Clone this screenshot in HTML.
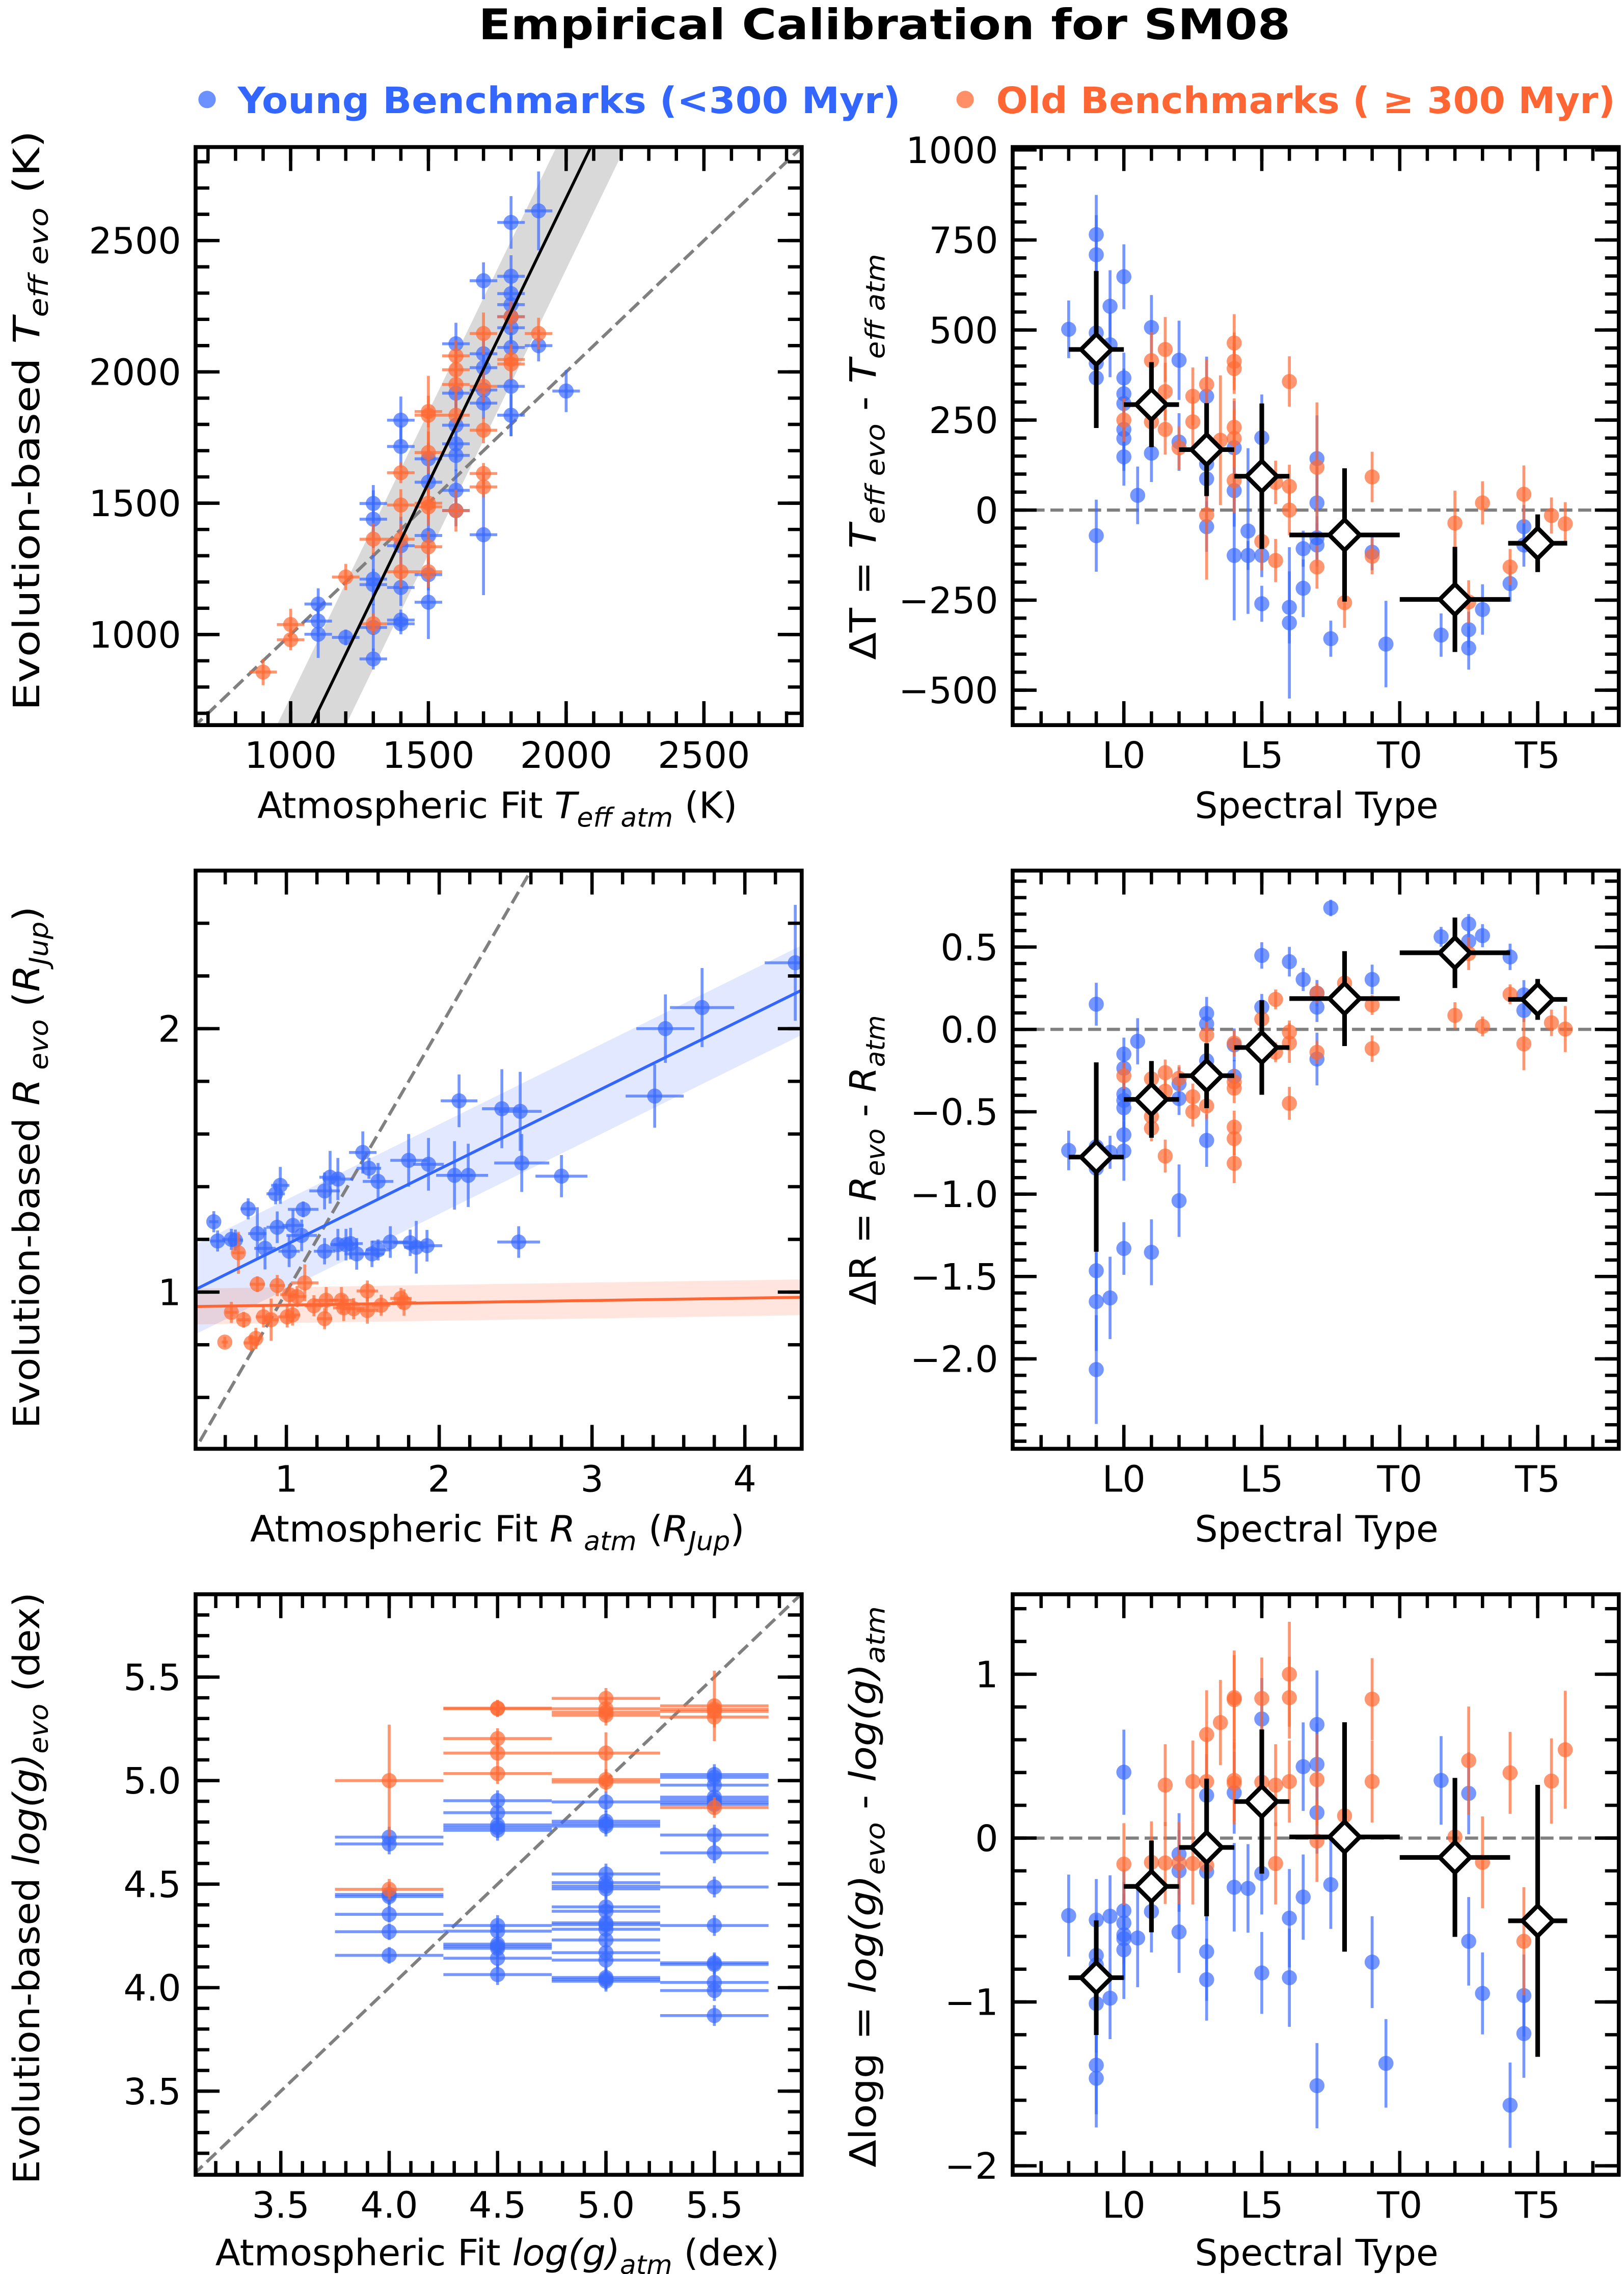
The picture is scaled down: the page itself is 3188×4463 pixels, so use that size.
<!DOCTYPE html>
<html><head><meta charset="utf-8"><title>Empirical Calibration for SM08</title>
<style>
html,body{margin:0;padding:0;background:#fff;width:3188px;height:4463px;overflow:hidden;}
svg{display:block;}
text{font-family:"DejaVu Sans","Liberation Sans",sans-serif;fill:#000;}
</style></head>
<body>
<svg id="fig" width="3188" height="4463" viewBox="0 0 1120 1568" preserveAspectRatio="none" xmlns="http://www.w3.org/2000/svg">
<rect x="0" y="0" width="1120" height="1568" fill="#fff"/>
<text x="610" y="27" text-anchor="middle" font-size="29" font-weight="bold" textLength="560" lengthAdjust="spacingAndGlyphs">Empirical Calibration for SM08</text>
<g>
<circle cx="142.8" cy="68.6" r="6" fill="#3a6bff" fill-opacity="0.75"/>
<text x="164" y="78" font-size="25" font-weight="bold" style="fill:#3366ff" textLength="457" lengthAdjust="spacingAndGlyphs">Young Benchmarks (&lt;300 Myr)</text>
<circle cx="665.6" cy="68.6" r="6" fill="#ff6a33" fill-opacity="0.75"/>
<text x="687" y="78" font-size="25" font-weight="bold" style="fill:#ff6633" textLength="427" lengthAdjust="spacingAndGlyphs">Old Benchmarks ( ≥ 300 Myr)</text>
</g>

<text x="343" y="564" text-anchor="middle" font-size="25" textLength="331" lengthAdjust="spacingAndGlyphs">Atmospheric Fit <tspan font-style="italic">T</tspan><tspan font-style="italic" font-size="18" dy="6">eff atm</tspan><tspan dy="-6"> (K)</tspan></text>
<text transform="translate(27,290) rotate(-90)" text-anchor="middle" font-size="25" textLength="400" lengthAdjust="spacingAndGlyphs">Evolution-based  <tspan font-style="italic">T</tspan><tspan font-style="italic" font-size="18" dy="6">eff evo</tspan><tspan dy="-6"> (K)</tspan></text>
<text x="908" y="564" text-anchor="middle" font-size="25" textLength="168" lengthAdjust="spacingAndGlyphs">Spectral Type</text>
<text transform="translate(604,315) rotate(-90)" text-anchor="middle" font-size="25" textLength="280" lengthAdjust="spacingAndGlyphs">ΔT = <tspan font-style="italic">T</tspan><tspan font-style="italic" font-size="18" dy="6">eff evo</tspan><tspan dy="-6"> - </tspan><tspan font-style="italic">T</tspan><tspan font-style="italic" font-size="18" dy="6">eff atm</tspan></text>

<text x="343" y="1063" text-anchor="middle" font-size="25" textLength="341" lengthAdjust="spacingAndGlyphs">Atmospheric Fit <tspan font-style="italic">R</tspan><tspan font-style="italic" font-size="18" dy="6"> atm</tspan><tspan dy="-6"> (</tspan><tspan font-style="italic">R</tspan><tspan font-style="italic" font-size="18" dy="6">Jup</tspan><tspan dy="-6">)</tspan></text>
<text transform="translate(27,805) rotate(-90)" text-anchor="middle" font-size="25" textLength="360" lengthAdjust="spacingAndGlyphs">Evolution-based <tspan font-style="italic">R</tspan><tspan font-style="italic" font-size="18" dy="6"> evo</tspan><tspan dy="-6"> (</tspan><tspan font-style="italic">R</tspan><tspan font-style="italic" font-size="18" dy="6">Jup</tspan><tspan dy="-6">)</tspan></text>
<text x="908" y="1063" text-anchor="middle" font-size="25" textLength="168" lengthAdjust="spacingAndGlyphs">Spectral Type</text>
<text transform="translate(604,800) rotate(-90)" text-anchor="middle" font-size="25" textLength="200" lengthAdjust="spacingAndGlyphs">ΔR = <tspan font-style="italic">R</tspan><tspan font-style="italic" font-size="18" dy="6">evo</tspan><tspan dy="-6"> - </tspan><tspan font-style="italic">R</tspan><tspan font-style="italic" font-size="18" dy="6">atm</tspan></text>

<text x="343" y="1562" text-anchor="middle" font-size="25" textLength="389" lengthAdjust="spacingAndGlyphs">Atmospheric Fit <tspan font-style="italic">log(g)</tspan><tspan font-style="italic" font-size="18" dy="6">atm</tspan><tspan dy="-6"> (dex)</tspan></text>
<text transform="translate(27,1302) rotate(-90)" text-anchor="middle" font-size="25" textLength="408" lengthAdjust="spacingAndGlyphs">Evolution-based  <tspan font-style="italic">log(g)</tspan><tspan font-style="italic" font-size="18" dy="6">evo</tspan><tspan dy="-6"> (dex)</tspan></text>
<text x="908" y="1562" text-anchor="middle" font-size="25" textLength="168" lengthAdjust="spacingAndGlyphs">Spectral Type</text>
<text transform="translate(604,1301) rotate(-90)" text-anchor="middle" font-size="25" textLength="387" lengthAdjust="spacingAndGlyphs">Δlogg = <tspan font-style="italic">log(g)</tspan><tspan font-style="italic" font-size="18" dy="6">evo</tspan><tspan dy="-6"> - </tspan><tspan font-style="italic">log(g)</tspan><tspan font-style="italic" font-size="18" dy="6">atm</tspan></text>
</svg>

<script>
const teffYoung = [[1100,1116,60],[1100,1051,60],[1100,1001,90],[1200,989,30],[1300,907,40],[1300,1027,90],[1300,1211,100],[1300,1190,60],[1300,1439,110],[1300,1499,70],[1400,1055,40],[1400,1041,40],[1400,1179,70],[1400,1338,110],[1400,1716,80],[1400,1816,90],[1500,1123,140],[1500,1228,60],[1500,1377,110],[1500,1580,60],[1500,1669,60],[1600,1549,80],[1600,1472,60],[1600,1682,60],[1600,1726,60],[1600,1797,100],[1600,1919,80],[1600,2107,80],[1700,1380,230],[1700,1881,60],[1700,1931,60],[1700,2016,60],[1700,2069,60],[1700,2347,70],[1800,1835,80],[1800,1945,190],[1800,2093,60],[1800,2168,70],[1800,2210,70],[1800,2256,70],[1800,2298,70],[1800,2364,80],[1800,2569,100],[1900,2100,60],[1900,2613,150],[2000,1927,80]];
const teffOld = [[900,857,50],[1000,1038,60],[1000,980,40],[1200,1219,50],[1300,1041,40],[1300,1363,60],[1400,1239,60],[1400,1363,60],[1400,1493,60],[1400,1616,40],[1500,1239,60],[1500,1334,60],[1500,1486,70],[1500,1500,60],[1500,1693,80],[1500,1849,60],[1500,1835,150],[1600,1835,60],[1600,1952,60],[1600,2008,60],[1600,2061,60],[1600,1472,80],[1700,1613,40],[1700,1562,40],[1700,1778,50],[1700,1945,60],[1700,2146,80],[1800,2030,60],[1800,2047,60],[1800,2210,60],[1900,2146,60]];
const teffXerr = [50];
const teffFit = [2.17, 1072, 648];
const teffFitBand = [125];

const dteffYoung = [[8,502,80],[9,765,110],[9,709,110],[9,492,80],[9,408,80],[9,367,80],[9,-71,100],[9.5,566,100],[9.5,459,90],[10,648,90],[10,367,70],[10,323,70],[10,296,60],[10,224,100],[10,199,90],[10,148,80],[10.5,41,80],[11,507,90],[11,158,80],[12,416,110],[12,189,80],[13,316,110],[13,128,90],[13,87,80],[13,-46,70],[14,173,130],[14,54,100],[14,-126,180],[14.5,-58,230],[14.5,-126,40],[15,201,120],[15,-126,60],[15,-260,50],[16,-270,100],[16,-313,210],[16.5,-107,50],[16.5,-217,80],[17,143,120],[17,20,100],[17,-77,60],[17,-97,60],[17.5,-357,50],[19,-117,50],[19.5,-372,120],[21.5,-347,60],[22.5,-332,50],[22.5,-383,60],[23,-276,70],[24,-204,50],[24.5,-46,60],[24.5,-97,60]];
const dteffOld = [[10,250,60],[11,415,80],[11,245,70],[11.5,446,90],[11.5,329,80],[11.5,224,70],[12,173,60],[12.5,316,80],[12.5,245,70],[13,349,70],[13,-13,180],[13.5,194,180],[14,464,80],[14,413,80],[14,393,70],[14,230,80],[14,199,80],[14,82,90],[15,-87,80],[15.5,77,60],[15.5,-140,60],[16,357,70],[16,66,60],[16,0,70],[17,119,180],[17,-158,60],[18,-257,70],[19,92,70],[19,-128,50],[22,-36,90],[22.5,-255,60],[23,20,60],[24,-158,50],[24.5,44,80],[25.5,-15,50],[26,-38,60]];
const binSpT = [9,11,13,15,18,22,25];
const binSpTErr = [1,1,1,1,2,2,1.07];
const dteffBin = [446,293,168,94,-69,-248,-92];
const dteffBinErr = [218,118,129,202,185,146,80];

const radYoung = [[0.525,1.267,0.03,0.04],[0.55,1.194,0.05,0.04],[0.64,1.20,0.06,0.04],[0.666,1.197,0.05,0.04],[0.75,1.316,0.05,0.04],[0.81,1.222,0.06,0.1],[0.86,1.166,0.07,0.08],[0.93,1.373,0.06,0.04],[0.96,1.405,0.06,0.07],[0.94,1.246,0.07,0.06],[1.018,1.155,0.07,0.06],[1.043,1.253,0.07,0.06],[1.10,1.215,0.1,0.06],[1.11,1.314,0.1,0.03],[1.25,1.155,0.07,0.05],[1.25,1.384,0.1,0.07],[1.286,1.436,0.07,0.1],[1.337,1.429,0.1,0.08],[1.337,1.18,0.05,0.06],[1.39,1.18,0.08,0.06],[1.42,1.184,0.08,0.06],[1.46,1.145,0.08,0.06],[1.50,1.53,0.09,0.08],[1.54,1.47,0.08,0.04],[1.56,1.145,0.08,0.05],[1.60,1.42,0.1,0.07],[1.60,1.16,0.08,0.04],[1.68,1.19,0.12,0.06],[1.80,1.50,0.12,0.1],[1.81,1.187,0.11,0.05],[1.85,1.17,0.08,0.1],[1.93,1.485,0.1,0.1],[1.92,1.176,0.1,0.06],[2.10,1.443,0.12,0.13],[2.19,1.443,0.13,0.12],[2.13,1.726,0.12,0.1],[2.41,1.696,0.13,0.15],[2.53,1.686,0.14,0.15],[2.54,1.49,0.18,0.11],[2.52,1.19,0.14,0.06],[2.80,1.44,0.17,0.08],[3.41,1.744,0.19,0.12],[3.48,2.0,0.19,0.13],[3.72,2.08,0.21,0.15],[4.33,2.25,0.2,0.22]];
const radOld = [[0.597,0.81,0.02,0.02],[0.686,1.149,0.04,0.08],[0.64,0.923,0.04,0.04],[0.72,0.895,0.04,0.03],[0.80,0.824,0.04,0.04],[0.77,0.807,0.05,0.03],[0.81,1.03,0.05,0.03],[0.85,0.906,0.05,0.04],[0.90,0.895,0.05,0.08],[0.94,1.025,0.05,0.04],[1.005,0.906,0.06,0.04],[1.04,0.913,0.05,0.04],[1.02,0.99,0.06,0.04],[1.07,0.983,0.06,0.04],[1.12,1.035,0.09,0.07],[1.18,0.948,0.06,0.04],[1.25,0.899,0.05,0.04],[1.26,0.969,0.08,0.05],[1.36,0.969,0.08,0.05],[1.375,0.94,0.07,0.05],[1.44,0.937,0.07,0.04],[1.53,1.004,0.07,0.04],[1.53,0.93,0.07,0.05],[1.62,0.95,0.06,0.04],[1.75,0.976,0.07,0.04],[1.77,0.96,0.08,0.05]];
const radYoungFit = [0.2864, 0.894, 0.17];
const radOldFit = [0.0088, 0.9416, 0.068];

const dradYoung = [[8,-0.735,0.12],[9,0.153,0.13],[9,-0.712,0.1],[9,-0.843,0.1],[9,-1.465,0.15],[9,-1.652,0.3],[9,-2.065,0.33],[9.5,-0.746,0.1],[9.5,-1.63,0.25],[10,-0.15,0.1],[10,-0.236,0.1],[10,-0.393,0.12],[10,-0.431,0.12],[10,-0.476,0.12],[10,-0.64,0.12],[10,-0.739,0.18],[10,-1.33,0.16],[10.5,-0.072,0.14],[11,-1.353,0.2],[12,-0.33,0.1],[12,-0.42,0.1],[12,-1.04,0.22],[13,0.097,0.1],[13,0.034,0.1],[13,-0.19,0.1],[13,-0.674,0.16],[14,-0.094,0.1],[14,-0.285,0.1],[15,0.449,0.08],[15,0.135,0.08],[16,0.411,0.09],[16.5,0.303,0.07],[17,0.22,0.08],[17,0.135,0.09],[17,-0.18,0.16],[17.5,0.737,0.05],[19,0.303,0.09],[21.5,0.562,0.06],[22.5,0.64,0.06],[22.5,0.535,0.06],[23,0.569,0.07],[24,0.44,0.08],[24.5,0.209,0.09],[24.5,0.115,0.07]];
const dradOld = [[10,-0.281,0.08],[11,-0.30,0.08],[11,-0.528,0.07],[11,-0.60,0.08],[11.5,-0.263,0.08],[11.5,-0.375,0.07],[11.5,-0.769,0.1],[12,-0.297,0.08],[12.5,-0.409,0.08],[12.5,-0.50,0.09],[13,-0.034,0.08],[13,-0.465,0.08],[14,-0.083,0.08],[14,-0.319,0.08],[14,-0.357,0.09],[14,-0.593,0.1],[14,-0.663,0.1],[14,-0.813,0.12],[15,0.063,0.07],[15.5,0.182,0.06],[15.5,-0.139,0.06],[16,-0.016,0.07],[16,-0.083,0.12],[16,-0.449,0.1],[17,0.22,0.06],[17,-0.139,0.07],[18,0.281,0.06],[19,0.148,0.06],[19,-0.117,0.08],[22,0.085,0.08],[22.5,0.46,0.1],[23,0.018,0.06],[24,0.213,0.06],[24.5,-0.088,0.16],[25.5,0.04,0.08],[26,0.002,0.14]];
const dradBin = [-0.775,-0.425,-0.281,-0.11,0.187,0.465,0.182];
const dradBinErr = [0.575,0.233,0.197,0.287,0.288,0.214,0.124];

const loggYoung = [[4,4.727,0.05],[4,4.694,0.05],[4,4.45,0.05],[4,4.44,0.05],[4,4.354,0.04],[4,4.27,0.04],[4,4.156,0.04],[4.5,4.903,0.05],[4.5,4.845,0.05],[4.5,4.786,0.05],[4.5,4.773,0.05],[4.5,4.76,0.05],[4.5,4.30,0.05],[4.5,4.273,0.05],[4.5,4.21,0.05],[4.5,4.20,0.05],[4.5,4.19,0.05],[4.5,4.142,0.05],[4.5,4.063,0.05],[5,4.897,0.05],[5,4.804,0.05],[5,4.791,0.05],[5,4.78,0.05],[5,4.549,0.05],[5,4.507,0.05],[5,4.49,0.05],[5,4.477,0.05],[5,4.39,0.05],[5,4.369,0.05],[5,4.313,0.05],[5,4.304,0.05],[5,4.282,0.05],[5,4.23,0.05],[5,4.169,0.05],[5,4.133,0.05],[5,4.049,0.05],[5,4.04,0.05],[5,4.031,0.05],[5.5,5.029,0.05],[5.5,5.016,0.05],[5.5,4.978,0.05],[5.5,4.92,0.05],[5.5,4.906,0.05],[5.5,4.894,0.05],[5.5,4.885,0.05],[5.5,4.737,0.05],[5.5,4.651,0.05],[5.5,4.486,0.05],[5.5,4.30,0.05],[5.5,4.12,0.05],[5.5,4.112,0.05],[5.5,4.025,0.05],[5.5,3.986,0.05],[5.5,3.865,0.05]];
const loggOld = [[4,5.0,0.27],[4,4.475,0.05],[4.5,5.35,0.04],[4.5,5.347,0.04],[4.5,5.203,0.05],[4.5,5.133,0.05],[4.5,5.034,0.05],[5,5.397,0.05],[5,5.347,0.05],[5,5.33,0.05],[5,5.316,0.05],[5,5.133,0.1],[5,5.005,0.05],[5,4.993,0.05],[5.5,5.361,0.17],[5.5,5.344,0.05],[5.5,5.334,0.05],[5.5,5.307,0.05],[5.5,4.87,0.05]];
const loggXerr = [0.25];

const dloggYoung = [[8,-0.473,0.25],[9,-0.5,0.25],[9,-0.716,0.25],[9,-0.773,0.3],[9,-1.01,0.3],[9,-1.386,0.3],[9,-1.466,0.3],[9.5,-0.477,0.25],[9.5,-0.977,0.25],[10,0.402,0.26],[10,-0.443,0.25],[10,-0.518,0.25],[10,-0.59,0.25],[10,-0.614,0.25],[10,-0.682,0.3],[10.5,-0.61,0.3],[11,-0.448,0.25],[12,-0.098,0.25],[12,-0.2,0.25],[12,-0.573,0.25],[13,0.261,0.25],[13,-0.205,0.3],[13,-0.693,0.3],[13,-0.864,0.25],[14,0.277,0.25],[14,-0.30,0.27],[14.5,-0.307,0.27],[15,0.727,0.25],[15,-0.216,0.25],[15,-0.823,0.25],[16,-0.489,0.3],[16,-0.852,0.3],[16.5,0.436,0.27],[16.5,-0.36,0.26],[17,0.693,0.33],[17,0.45,0.25],[17,0.155,0.25],[17,-1.511,0.26],[17.5,-0.284,0.27],[19,-0.757,0.28],[19.5,-1.375,0.27],[21.5,0.352,0.27],[22.5,0.273,0.25],[22.5,-0.63,0.27],[23,-0.948,0.25],[24,-1.63,0.26],[24.5,-0.961,0.25],[24.5,-1.193,0.27]];
const dloggOld = [[10,-0.159,0.25],[11,-0.148,0.25],[11.5,0.323,0.25],[11.5,-0.152,0.25],[12,-0.152,0.25],[12.5,0.345,0.25],[12.5,-0.155,0.25],[13,0.632,0.27],[13,0.345,0.27],[13,-0.166,0.25],[13.5,0.705,0.26],[14,0.857,0.26],[14,0.845,0.3],[14,0.352,0.25],[14,0.334,0.25],[15,0.852,0.25],[15,0.341,0.25],[15.5,0.323,0.25],[15.5,-0.155,0.25],[16,1.0,0.32],[16,0.857,0.25],[16,0.345,0.25],[17,0.357,0.28],[17,-0.018,0.25],[18,0.136,0.1],[19,0.848,0.25],[19,0.345,0.25],[22,0.007,0.1],[22.5,0.473,0.33],[23,-0.148,0.28],[24,0.398,0.25],[24.5,-0.63,0.33],[25.5,0.348,0.26],[26,0.539,0.36]];
const dloggBin = [-0.852,-0.295,-0.057,0.223,0.007,-0.118,-0.505];
const dloggBinErr = [0.35,0.28,0.42,0.44,0.70,0.485,0.83];

const teffTicks = [1000,1500,2000,2500];
const spTTicks = [10,15,20,25];
const spTLabels = ['L0','L5','T0','T5'];
const dteffTicks = [-500,-250,0,250,500,750,1000];
const radXTicks = [1,2,3,4];
const radYTicks = [1,2];
const dradTicks = [-2,-1.5,-1,-0.5,0,0.5];
const dradLabels = ['−2.0','−1.5','−1.0','−0.5','0.0','0.5'];
const loggTicks = [3.5,4,4.5,5,5.5];
const loggLabels = ['3.5','4.0','4.5','5.0','5.5'];
const dloggTicks = [-2,-1,0,1];

const NS = 'http://www.w3.org/2000/svg';
const svg = document.getElementById('fig');
const BLUE = '#3a6bff', ORANGE = '#ff6a33';
function mk(tag, parent){ const e = document.createElementNS(NS, tag); parent.appendChild(e); return e; }
function set(e, o){ for (const k in o) e.setAttribute(k, o[k]); return e; }
function minus(v){ return String(v).replace('-', '−'); }

const panels = {
  A:{x0:134.9,x1:552.9,y0:101.4,y1:500,xmin:655,xmax:2855,ymin:655,ymax:2856},
  B:{x0:698.4,x1:1116.4,y0:101.4,y1:500,xmin:5.97,xmax:27.94,ymin:-597,ymax:1008},
  C:{x0:134.9,x1:552.9,y0:600.3,y1:999,xmin:0.406,xmax:4.372,ymin:0.405,ymax:2.60},
  D:{x0:698.4,x1:1116.4,y0:600.3,y1:999,xmin:5.97,xmax:27.94,ymin:-2.546,ymax:0.964},
  E:{x0:134.9,x1:552.9,y0:1099.3,y1:1499.6,xmin:3.107,xmax:5.903,ymin:3.096,ymax:5.90},
  F:{x0:698.4,x1:1116.4,y0:1099.3,y1:1499.6,xmin:5.97,xmax:27.94,ymin:-2.055,ymax:1.488}
};
for (const k in panels){
  const p = panels[k];
  p.sx = v => p.x0 + (v - p.xmin) / (p.xmax - p.xmin) * (p.x1 - p.x0);
  p.sy = v => p.y1 - (v - p.ymin) / (p.ymax - p.ymin) * (p.y1 - p.y0);
  const defs = mk('defs', svg);
  const cp = mk('clipPath', defs);
  set(cp, {id:'clip'+k});
  const r = mk('rect', cp);
  set(r, {x:p.x0, y:p.y0, width:p.x1-p.x0, height:p.y1-p.y0});
  const g = mk('g', svg);
  
  
  set(g, {'clip-path':'url(#clip'+k+')'});
  p.g = g;
}

function line(parent, x1, y1, x2, y2, stroke, w, extra){
  const l = mk('line', parent);
  set(l, {x1:x1, y1:y1, x2:x2, y2:y2, stroke:stroke, 'stroke-width':w});
  if (extra) set(l, extra);
  return l;
}
function oneToOne(p){
  const lo = Math.min(p.xmin, p.ymin) - 10, hi = Math.max(p.xmax, p.ymax) + 10;
  const l = line(p.g, p.sx(lo), p.sy(lo), p.sx(hi), p.sy(hi), '#808080', 2.2, {'stroke-dasharray':'9,4'});
  
  
}
function zeroLine(p){
  const l = line(p.g, p.x0, p.sy(0), p.x1, p.sy(0), '#808080', 2.2, {'stroke-dasharray':'9,4'});
  
  
}
function points(p, data, color, defXerr, name){
  const g = mk('g', p.g);
  
  
  data.forEach(d => {
    const x = d[0], y = d[1];
    const ye = d.length > 3 ? d[3] : d[2];
    const xe = d.length > 3 ? d[2] : defXerr;
    if (ye > 0){
      const l = line(g, p.sx(x), p.sy(y - ye), p.sx(x), p.sy(y + ye), color, 2, {'stroke-opacity':0.7});
      
      
    }
    if (xe > 0){
      const l = line(g, p.sx(x - xe), p.sy(y), p.sx(x + xe), p.sy(y), color, 2, {'stroke-opacity':0.7});
      
      
    }
    const c = mk('circle', g);
    
    
    set(c, {cx:p.sx(x), cy:p.sy(y), r:5.2, fill:color, 'fill-opacity':0.7});
  });
}
function bins(p, vals, errs, name){
  const g = mk('g', p.g);
  
  
  vals.forEach((v, i) => {
    const x = binSpT[i], xe = binSpTErr[i], ye = errs[i];
    const l1 = line(g, p.sx(x), p.sy(v - ye), p.sx(x), p.sy(v + ye), '#000', 3.2);
    
    
    const l2 = line(g, p.sx(x - xe), p.sy(v), p.sx(x + xe), p.sy(v), '#000', 3.2);
    
    
    const cx = p.sx(x), cy = p.sy(v), r = 10.5;
    const d = mk('polygon', g);
    
    
    set(d, {points:`${cx},${cy-r} ${cx+r},${cy} ${cx},${cy+r} ${cx-r},${cy}`, fill:'#fff', stroke:'#000', 'stroke-width':3});
  });
}
function frame(p, xMajor, xMinor, yMajor, yMinor, xLabels, yLabels, xLabelVals, yLabelVals, key){
  const g = mk('g', svg);
  
  
  const ML = 16.5, mL = 9.5, W = 2.3;
  const tick = (x1,y1,x2,y2) => { const l = line(g,x1,y1,x2,y2,'#000',W);   };
  [[xMajor, ML],[xMinor, mL]].forEach(([arr, L]) => arr.forEach(v => {
    const x = p.sx(v); if (x < p.x0 + 1 || x > p.x1 - 1) return;
    tick(x, p.y1, x, p.y1 - L); tick(x, p.y0, x, p.y0 + L);
  }));
  [[yMajor, ML],[yMinor, mL]].forEach(([arr, L]) => arr.forEach(v => {
    const y = p.sy(v); if (y < p.y0 + 1 || y > p.y1 - 1) return;
    tick(p.x0, y, p.x0 + L, y); tick(p.x1, y, p.x1 - L, y);
  }));
  const r = mk('rect', g);
  
  
  set(r, {x:p.x0, y:p.y0, width:p.x1-p.x0, height:p.y1-p.y0, fill:'none', stroke:'#000', 'stroke-width':2.7});
  xLabelVals.forEach((v, i) => {
    const t = mk('text', g);
    
    
    set(t, {x:p.sx(v), y:p.y1 + 29.5, 'text-anchor':'middle', 'font-size':25});
    t.textContent = xLabels[i];
  });
  yLabelVals.forEach((v, i) => {
    const t = mk('text', g);
    
    
    set(t, {x:p.x0 - 10, y:p.sy(v) + 9, 'text-anchor':'end', 'font-size':25});
    t.textContent = yLabels[i];
  });
}
function range(a, b, step){ const out = []; const n = Math.round((b - a) / step); for (let i = 0; i <= n; i++) out.push(+(a + i * step).toFixed(6)); return out; }

(function(){
  const p = panels.A;
  const band = mk('polygon', p.g);
  
  
  const xc = y => teffFit[1] + (y - teffFit[2]) / teffFit[0];
  const ya = 500, yb = 3000;
  set(band, {points:[[xc(ya)-teffFitBand[0],ya],[xc(yb)-teffFitBand[0],yb],[xc(yb)+teffFitBand[0],yb],[xc(ya)+teffFitBand[0],ya]].map(q=>p.sx(q[0])+','+p.sy(q[1])).join(' '), fill:'#d9d9d9'});
  oneToOne(p);
  points(p, teffYoung, BLUE, teffXerr[0], 'young-teff');
  points(p, teffOld, ORANGE, teffXerr[0], 'old-teff');
  const fl = line(p.g, p.sx(xc(ya)), p.sy(ya), p.sx(xc(yb)), p.sy(yb), '#000', 2);
  
  
  frame(p, range(500,3000,500), range(700,2800,100), range(500,3000,500), range(700,2800,100), teffTicks.map(String), teffTicks.map(String), teffTicks, teffTicks, 'teff');
})();
(function(){
  const p = panels.B;
  zeroLine(p);
  points(p, dteffYoung, BLUE, 0, 'young-dteff');
  points(p, dteffOld, ORANGE, 0, 'old-dteff');
  bins(p, dteffBin, dteffBinErr, 'dteff');
  frame(p, spTTicks, range(6,28,1), range(-500,1000,250), range(-550,1000,50), spTLabels, dteffTicks.map(minus), spTTicks, dteffTicks, 'dteff');
})();
(function(){
  const p = panels.C;
  [[radYoungFit, 'rgba(51,102,255,0.15)', 'young'], [radOldFit, 'rgba(255,102,51,0.17)', 'old']].forEach(([f, fill, nm]) => {
    const xa = 0.2, xb = 4.6;
    const b = mk('polygon', p.g);
    
    
    set(b, {points:[[xa,f[1]+f[0]*xa-f[2]],[xb,f[1]+f[0]*xb-f[2]],[xb,f[1]+f[0]*xb+f[2]],[xa,f[1]+f[0]*xa+f[2]]].map(q=>p.sx(q[0])+','+p.sy(q[1])).join(' '), fill:fill});
  });
  oneToOne(p);
  points(p, radYoung, BLUE, 0, 'young-radius');
  points(p, radOld, ORANGE, 0, 'old-radius');
  [[radYoungFit, '#3366ff', 'young'], [radOldFit, '#ff6633', 'old']].forEach(([f, col, nm]) => {
    const l = line(p.g, p.sx(0.2), p.sy(f[1]+f[0]*0.2), p.sx(4.6), p.sy(f[1]+f[0]*4.6), col, 2);
    
    
  });
  frame(p, radXTicks, range(0.2,4.4,0.2), radYTicks, range(0.4,2.6,0.2), radXTicks.map(String), radYTicks.map(String), radXTicks, radYTicks, 'radius');
})();
(function(){
  const p = panels.D;
  zeroLine(p);
  points(p, dradYoung, BLUE, 0, 'young-dradius');
  points(p, dradOld, ORANGE, 0, 'old-dradius');
  bins(p, dradBin, dradBinErr, 'dradius');
  frame(p, spTTicks, range(6,28,1), dradTicks, range(-2.5,0.9,0.1), spTLabels, dradLabels, spTTicks, dradTicks, 'dradius');
})();
(function(){
  const p = panels.E;
  oneToOne(p);
  points(p, loggYoung, BLUE, loggXerr[0], 'young-logg');
  points(p, loggOld, ORANGE, loggXerr[0], 'old-logg');
  frame(p, loggTicks, range(3.2,5.9,0.1), loggTicks, range(3.1,5.9,0.1), loggLabels, loggLabels, loggTicks, loggTicks, 'logg');
})();
(function(){
  const p = panels.F;
  zeroLine(p);
  points(p, dloggYoung, BLUE, 0, 'young-dlogg');
  points(p, dloggOld, ORANGE, 0, 'old-dlogg');
  bins(p, dloggBin, dloggBinErr, 'dlogg');
  frame(p, spTTicks, range(6,28,1), dloggTicks, range(-2,1.4,0.2), spTLabels, dloggTicks.map(minus), spTTicks, dloggTicks, 'dlogg');
})();
</script>
</body></html>
